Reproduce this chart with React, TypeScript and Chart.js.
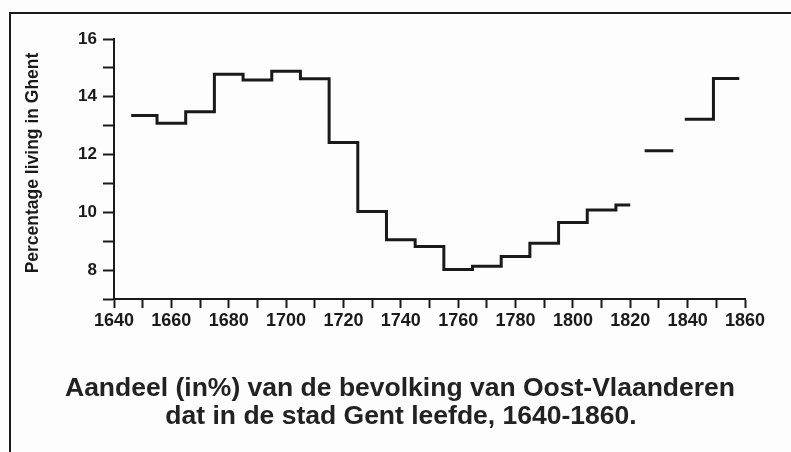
import React, { useEffect, useRef } from "react";
import { Chart, registerables } from "chart.js";

Chart.register(...registerables);

// Decade segments (start year, end year) and share living in Ghent (%)
const segStart = [1646, 1655, 1665, 1675, 1685, 1695, 1705, 1715, 1725, 1735, 1745, 1755, 1765, 1775, 1785, 1795, 1805, 1815, 1825, 1839, 1849];
const segEnd = [1655, 1665, 1675, 1685, 1695, 1705, 1715, 1725, 1735, 1745, 1755, 1765, 1775, 1785, 1795, 1805, 1815, 1820, 1835, 1849, 1858];
const shareValues = [13.35, 13.08, 13.48, 14.78, 14.58, 14.88, 14.62, 12.42, 10.03, 9.05, 8.82, 8.02, 8.13, 8.47, 8.93, 9.65, 10.08, 10.25, 12.13, 13.22, 14.63];

const yTickLabels = [8, 10, 12, 14, 16];
const xTickLabels = [1640, 1660, 1680, 1700, 1720, 1740, 1760, 1780, 1800, 1820, 1840, 1860];

const yTitle = "Percentage living in Ghent";
const captionLines = [
  "Aandeel (in%) van de bevolking van Oost-Vlaanderen",
  "dat in de stad Gent leefde, 1640-1860.",
];

const FONT = "'Liberation Sans', Arial, Helvetica, sans-serif";

function buildPoints() {
  const pts: { x: number; y: number | null }[] = [];
  for (let i = 0; i < segStart.length; i++) {
    pts.push({ x: segStart[i], y: shareValues[i] });
    const last = i === segStart.length - 1;
    if (last || segStart[i + 1] !== segEnd[i]) {
      pts.push({ x: segEnd[i], y: shareValues[i] });
      if (!last) pts.push({ x: segEnd[i], y: null });
    }
  }
  return pts;
}

const framePlugin = {
  id: "frameAndCaption",
  beforeDraw(chart: any) {
    const ctx = chart.ctx;
    ctx.save();
    ctx.fillStyle = "#fdfdfd";
    ctx.fillRect(0, 0, chart.width, chart.height);
    ctx.restore();
  },
  afterDraw(chart: any) {
    const ctx = chart.ctx;
    ctx.save();
    ctx.strokeStyle = "#1a1a1a";
    ctx.lineWidth = 2;
    ctx.beginPath();
    ctx.moveTo(10, chart.height);
    ctx.lineTo(10, 13);
    ctx.lineTo(chart.width, 13);
    ctx.stroke();

    // y-axis title
    ctx.fillStyle = "#1a1a1a";
    ctx.font = "bold 17.5px " + FONT;
    ctx.textAlign = "center";
    ctx.textBaseline = "middle";
    ctx.translate(33, 163);
    ctx.rotate(-Math.PI / 2);
    ctx.fillText(yTitle, 0, 0);
    ctx.setTransform(1, 0, 0, 1, 0, 0);

    // caption
    ctx.fillStyle = "#222";
    ctx.font = "bold 26.5px " + FONT;
    ctx.textAlign = "center";
    ctx.textBaseline = "middle";
    ctx.fillText(captionLines[0], 400, 389);
    ctx.fillText(captionLines[1], 401, 417);
    ctx.restore();
  },
};

export default function App() {
  const ref = useRef<HTMLCanvasElement | null>(null);
  useEffect(() => {
    if (!ref.current) return;
    const chart = new Chart(ref.current, {
      type: "line",
      data: {
        datasets: [
          {
            data: buildPoints() as any,
            borderColor: "#1a1a1a",
            borderWidth: 3,
            pointRadius: 0,
            stepped: "before",
            spanGaps: false,
            fill: false,
          },
        ],
      },
      options: {
        animation: false,
        responsive: false,
        devicePixelRatio: 1,
        layout: { padding: { left: 0, top: 39, right: 46, bottom: 113 } },
        plugins: { legend: { display: false }, tooltip: { enabled: false } },
        scales: {
          x: {
            type: "linear",
            min: 1640,
            max: 1860,
            afterFit: (s: any) => { s.height = 40; },
            ticks: {
              stepSize: 10,
              autoSkip: false,
              maxRotation: 0,
              color: "#1a1a1a",
              padding: 2,
              font: { family: FONT, size: 18, weight: "bold" },
              callback: (v: any) => (xTickLabels.includes(Number(v)) ? String(v) : ""),
            },
            grid: { drawOnChartArea: false, drawTicks: true, tickLength: 9, tickColor: "#1a1a1a", tickWidth: 2 },
            border: { display: true, color: "#1a1a1a", width: 2 },
          },
          y: {
            min: 7,
            max: 16,
            afterFit: (s: any) => { s.width = 114; },
            ticks: {
              stepSize: 1,
              autoSkip: false,
              color: "#1a1a1a",
              padding: 6,
              font: { family: FONT, size: 17, weight: "bold" },
              callback: (v: any) => (yTickLabels.includes(Number(v)) ? String(v) : ""),
            },
            grid: { drawOnChartArea: false, drawTicks: true, tickLength: 11, tickColor: "#1a1a1a", tickWidth: 2 },
            border: { display: true, color: "#1a1a1a", width: 2 },
          },
        },
      },
      plugins: [framePlugin],
    });
    return () => chart.destroy();
  }, []);
  return (
    <div style={{ position: "fixed", left: 0, top: 0, width: 791, height: 452 }}>
      <canvas ref={ref} width={791} height={452} style={{ width: 791, height: 452, display: "block" }} />
    </div>
  );
}
